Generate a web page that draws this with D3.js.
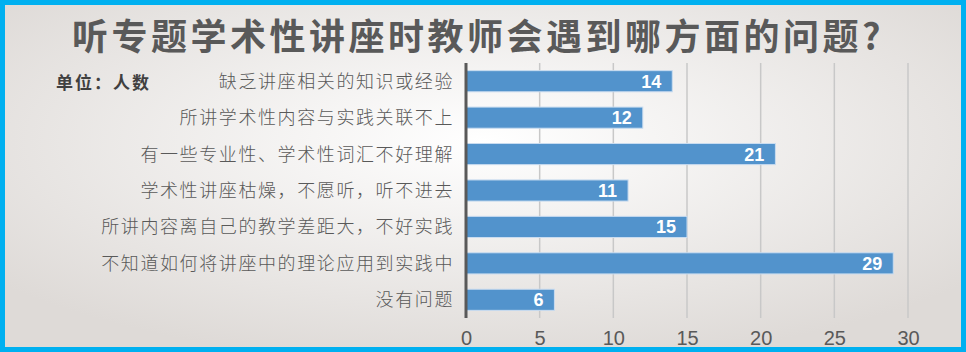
<!DOCTYPE html>
<meta charset="utf-8">
<style>
body { margin: 0; }
.axis--x path, .axis--x line { display: none; }
.axis--x text { font-family: "Liberation Sans Narrow", "Liberation Sans", sans-serif; font-size: 20px; fill: #595959; }
.grid line { stroke: #c8c8c8; stroke-width: 1.5px; }
.bar { fill: #5293cc; stroke: #c9dcf0; stroke-width: 1px; }
.label { font-family: "Liberation Sans", Arial, sans-serif; font-weight: bold; font-size: 18px; fill: #fff; }
.cat { font-family: "Noto Sans CJK SC", sans-serif; font-weight: 300; font-size: 18px; letter-spacing: 1.6px; fill: #595959; }
</style>
<svg width="966" height="352"></svg>
<script src="https://d3js.org/d3.v7.min.js"></script>
<script>
var categories = ["缺乏讲座相关的知识或经验", "所讲学术性内容与实践关联不上", "有一些专业性、学术性词汇不好理解",
  "学术性讲座枯燥，不愿听，听不进去", "所讲内容离自己的教学差距大，不好实践", "不知道如何将讲座中的理论应用到实践中", "没有问题"];
var counts = [14, 12, 21, 11, 15, 29, 6];
var ticks = [0, 5, 10, 15, 20, 25, 30];

var svg = d3.select("svg"),
    margin = {top: 63, right: 58, bottom: 34, left: 466},
    width = 966 - margin.left - margin.right,
    height = 352 - margin.top - margin.bottom;

var defs = svg.append("defs");
var grad = defs.append("radialGradient").attr("id", "bg")
    .attr("cx", "50%").attr("cy", "40%").attr("r", "65%");
grad.append("stop").attr("offset", "0%").attr("stop-color", "#ffffff");
grad.append("stop").attr("offset", "100%").attr("stop-color", "#dedad7");

svg.append("rect").attr("x", 2.5).attr("y", 2.5).attr("width", 961).attr("height", 347)
    .attr("fill", "url(#bg)").attr("stroke", "#00b0f0").attr("stroke-width", 5);

svg.append("text").attr("x", 478).attr("y", 50).attr("text-anchor", "middle")
    .style("font-family", "'Noto Sans CJK SC', sans-serif").style("font-weight", "bold")
    .style("font-size", "36px").style("letter-spacing", "3.5px").style("fill", "#595959")
    .text("听专题学术性讲座时教师会遇到哪方面的问题?");

svg.append("text").attr("x", 56).attr("y", 89)
    .style("font-family", "'Noto Sans CJK SC', sans-serif").style("font-weight", "bold")
    .style("font-size", "17px").style("letter-spacing", "2px").style("fill", "#404040")
    .text("单位：人数");

var x = d3.scaleLinear().domain([0, 30]).range([0, 442]),
    y = d3.scaleBand().domain(categories).range([0, 255]).padding(0.42).paddingOuter(0.21);

var g = svg.append("g").attr("transform", "translate(" + margin.left + "," + margin.top + ")");

g.append("g").attr("class", "grid")
  .selectAll("line").data(ticks.slice(1)).enter().append("line")
    .attr("x1", function(d) { return x(d); }).attr("x2", function(d) { return x(d); })
    .attr("y1", 0).attr("y2", 255);

g.append("g").attr("class", "axis axis--x")
    .attr("transform", "translate(0,268)")
    .call(d3.axisBottom(x).tickValues(ticks).tickSize(0).tickPadding(0));

g.selectAll(".bar").data(counts).enter().append("rect")
    .attr("class", "bar")
    .attr("x", 0)
    .attr("y", function(d, i) { return y(categories[i]); })
    .attr("width", function(d) { return x(d); })
    .attr("height", y.bandwidth());

g.selectAll(".label").data(counts).enter().append("text")
    .attr("class", "label")
    .attr("text-anchor", "end")
    .attr("x", function(d) { return x(d) - 11; })
    .attr("y", function(d, i) { return y(categories[i]) + y.bandwidth() / 2; })
    .attr("dy", "0.36em")
    .text(function(d) { return d; });

g.selectAll(".cat").data(categories).enter().append("text")
    .attr("class", "cat")
    .attr("text-anchor", "end")
    .attr("x", -12)
    .attr("y", function(d) { return y(d) + y.bandwidth() / 2; })
    .attr("dy", "0.36em")
    .text(function(d) { return d; });

g.append("line").attr("x1", 0).attr("x2", 0).attr("y1", 0).attr("y2", 255)
    .attr("stroke", "#595959").attr("stroke-width", 3);
</script>
